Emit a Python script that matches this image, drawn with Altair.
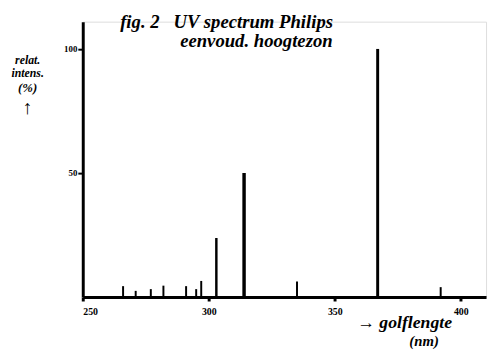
import altair as alt
import pandas as pd

# wavelengths (nm) and relative intensities (%) as drawn
wavelengths = [266, 271, 277, 282, 291, 295, 297, 303, 314, 335, 367, 392]
intensities = [4.4, 2.5, 3.2, 4.6, 4.4, 3.2, 6.5, 23.8, 50, 6.3, 100, 4.0]
widths = [2, 2, 2, 2, 2, 2, 2, 2.5, 3.5, 2, 3, 2]

x_ticks = [250, 300, 350, 400]
y_ticks = [50, 100]

title_lines = ["fig. 2\u00a0\u00a0\u00a0UV spectrum Philips", "eenvoud. hoogtezon"]
y_title_lines = ["relat.", "intens.", "(%)", "↑"]
x_title_lines = ["→ golflengte", "(nm)"]

df = pd.DataFrame({"wl": wavelengths, "int": intensities, "w": widths})

FONT = "Liberation Serif"

base = alt.Chart(df)

lines = base.mark_rule(color="black").encode(
    x=alt.X("wl:Q", scale=alt.Scale(domain=[250, 410], nice=False, zero=False),
            axis=alt.Axis(values=x_ticks, title=None, grid=False,
                          domainColor="black", domainWidth=3,
                          tickColor="black", tickWidth=3, tickSize=4,
                          labelFont=FONT, labelFontWeight="bold", labelFontSize=10,
                          labelColor="black", labelPadding=6)),
    y=alt.Y("int:Q", scale=alt.Scale(domain=[0, 111], nice=False),
            axis=alt.Axis(values=y_ticks, title=None, grid=False,
                          domainColor="black", domainWidth=3,
                          tickColor="black", tickWidth=2, tickSize=5,
                          labelFont=FONT, labelFontWeight="bold", labelFontSize=9,
                          labelColor="black", labelPadding=1)),
    y2=alt.datum(0),
    strokeWidth=alt.StrokeWidth("w:Q", scale=None, legend=None),
)

def txt(text, x, y, size, align="left"):
    return alt.Chart(pd.DataFrame({"t": [text]})).mark_text(
        font=FONT, fontStyle="italic", fontWeight="bold", fontSize=size,
        color="black", align=align, baseline="alphabetic"
    ).encode(x=alt.value(x), y=alt.value(y), text="t:N")

texts = [
    txt(title_lines[0], 38, 6, 19),
    txt(title_lines[1], 99, 26, 19),
    txt(y_title_lines[0], -56, 43, 12, "center"),
    txt(y_title_lines[1], -56, 56, 12, "center"),
    txt(y_title_lines[2], -56, 72, 13, "center"),
    txt(y_title_lines[3], -56, 94, 20, "center"),
    txt(x_title_lines[0], 279, 311, 18),
    txt(x_title_lines[1], 332, 330, 15),
]

chart = alt.layer(lines, *texts).properties(
    width=410, height=280,
    autosize=alt.AutoSizeParams(type="none"),
    padding={"left": 76, "top": 11, "right": 3, "bottom": 55},
).configure_view(stroke=None).configure(background="white")

chart.save("out.html", embed_options={"renderer": "svg", "actions": False})
